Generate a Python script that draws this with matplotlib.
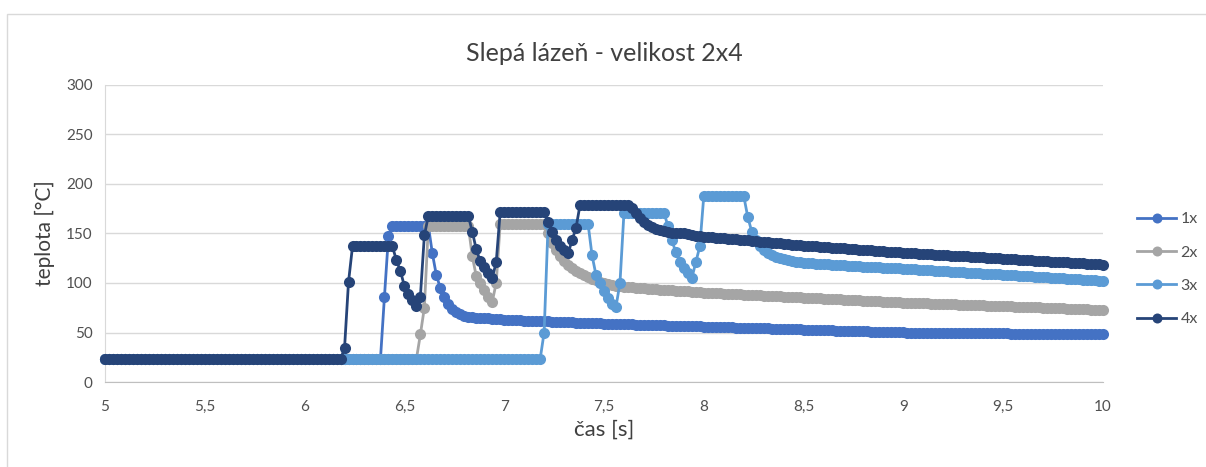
import numpy as np
import matplotlib.pyplot as plt
from matplotlib.patches import Rectangle
from matplotlib.ticker import FuncFormatter, MultipleLocator

plt.rcParams['font.family'] = ['Lato', 'DejaVu Sans']

# measurement sampling: 5 s .. 10 s every 0.02 s
t_start = 5.0
t_step = 0.02
n_samples = 251

# temperatures [°C] stored as (value, number of consecutive samples)
runs_1x = [(23, 70), (86, 1), (147, 1), (158, 10),
           (130, 1), (108, 1), (95, 1), (86, 1), (79, 1), (74, 1), (71, 1), (69, 1), (67, 1), (66, 2),
           (65, 4), (64, 3), (63, 5), (62, 7), (61, 6), (60, 7), (59, 8), (58, 8), (57, 9),
           (56, 8), (55, 9), (54, 8), (53, 8), (52, 9), (51, 9), (50, 12), (49, 14), (48, 24)]

runs_2x = [(23, 79), (48, 1), (75, 1), (158, 11),
           (127, 1), (107, 1), (100, 1), (93, 1), (86, 1), (81, 1), (100, 1), (160, 12),
           (150, 1), (140, 1), (133, 1), (127, 1), (122, 1), (118, 1), (115, 1), (112, 1),
           (110, 1), (108, 1), (106, 1), (104, 1), (103, 1), (101, 1), (100, 1), (99, 1),
           (98, 1), (97, 2), (96, 1),
           (96, 2), (95, 3), (94, 3), (93, 4), (92, 4), (91, 3),
           (90, 5), (89, 5), (88, 5), (87, 5), (86, 5), (85, 5), (84, 5), (83, 5), (82, 5), (81, 5),
           (80, 7), (79, 7), (78, 7), (77, 7), (76, 7), (75, 6), (74, 6), (73, 4)]

runs_3x = [(23, 110), (50, 1), (160, 11),
           (128, 1), (108, 1), (100, 1), (92, 1), (85, 1), (79, 1), (76, 1), (100, 1), (171, 11),
           (158, 1), (143, 1), (131, 1), (121, 1), (115, 1), (110, 1), (105, 1), (121, 1), (137, 1),
           (188, 11),
           (167, 1), (152, 1), (143, 1), (137, 1), (133, 1), (130, 1), (128, 1), (126, 1), (125, 1),
           (124, 1), (123, 1), (122, 1), (121, 2),
           (120, 3), (119, 4), (118, 4), (117, 4), (116, 5), (115, 5),
           (114, 4), (113, 4), (112, 4), (111, 4), (110, 4), (109, 5),
           (108, 4), (107, 4), (106, 4), (105, 4), (104, 4), (103, 4), (102, 2)]

runs_4x = [(23, 60), (34, 1), (101, 1), (137, 11),
           (123, 1), (112, 1), (97, 1), (89, 1), (83, 1), (77, 1), (86, 1), (148, 1), (168, 11),
           (152, 1), (134, 1), (122, 1), (116, 1), (110, 1), (105, 1), (121, 1), (172, 12),
           (162, 1), (152, 1), (143, 1), (137, 1), (133, 1), (130, 1), (143, 1), (156, 1), (179, 13),
           (176, 1), (171, 1), (166, 1), (162, 1), (159, 1), (157, 1), (155, 1), (154, 1), (153, 1),
           (152, 1), (151, 2), (150, 2), (149, 1), (148, 1), (147, 2),
           (146, 3), (145, 3), (144, 3), (143, 3), (142, 2), (141, 3), (140, 3), (139, 2), (138, 3),
           (137, 4), (136, 3), (135, 4), (134, 3), (133, 4), (132, 3), (131, 4),
           (130, 4), (129, 4), (128, 4), (127, 5), (126, 4), (125, 4),
           (124, 4), (123, 4), (122, 4), (121, 5), (120, 4), (119, 4), (118, 1)]

labels = ["1x", "2x", "3x", "4x"]
colors = ["#4472C4", "#A5A5A5", "#5B9BD5", "#264478"]


def expand(runs):
    vals = np.repeat([v for v, n in runs], [n for v, n in runs]).astype(float)
    assert len(vals) == n_samples, len(vals)
    return vals


t = t_start + t_step * np.arange(n_samples)
series = [expand(r) for r in (runs_1x, runs_2x, runs_3x, runs_4x)]

fig = plt.figure(figsize=(12.06, 4.67), dpi=100)
ax = fig.add_axes([105 / 1206, 1 - 382 / 467, 998 / 1206, 297 / 467])

# thin frame around the whole chart
fig.patches.append(Rectangle((7 / 1206, -0.05), 1.1, 0.05 + 1 - 14 / 467,
                             transform=fig.transFigure, fill=False,
                             edgecolor="#D9D9D9", lw=1))

for y, name, c in zip(series, labels, colors):
    ax.plot(t, y, color=c, lw=2.0, marker="o", markersize=8,
            markeredgewidth=0, label=name, clip_on=False, zorder=3)

ax.set_xlim(5, 10)
ax.set_ylim(0, 300)
ax.xaxis.set_major_locator(MultipleLocator(0.5))
ax.yaxis.set_major_locator(MultipleLocator(50))
ax.xaxis.set_major_formatter(FuncFormatter(lambda v, p: f"{v:g}".replace(".", ",")))
ax.grid(axis="y", color="#D9D9D9", lw=1)
ax.set_axisbelow(True)
for side in ("top", "right"):
    ax.spines[side].set_visible(False)
ax.spines["left"].set_color("#D9D9D9")
ax.spines["bottom"].set_color("#BFBFBF")
ax.tick_params(length=0, labelsize=11, labelcolor="#505050")
ax.tick_params(axis="x", pad=13)
ax.tick_params(axis="y", pad=9)

ax.set_title("Slepá lázeň - velikost 2x4", fontsize=18, color="#404040", pad=17)
ax.set_xlabel("čas [s]", fontsize=16, color="#404040", labelpad=4)
ax.set_ylabel("teplota [°C]", fontsize=15, color="#404040", labelpad=8)

ax.legend(loc="center left", bbox_to_anchor=(1.02, 0.38), frameon=False,
          fontsize=11.5, labelcolor="#505050", handlelength=2.4, labelspacing=1.2,
          handletextpad=0.3, markerscale=0.9)

fig.savefig("out.png", dpi=100)
